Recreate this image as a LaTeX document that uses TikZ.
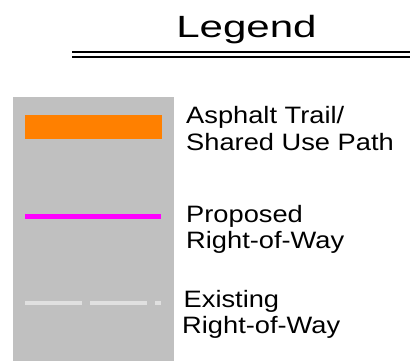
\documentclass[tikz,border=0pt]{standalone}
\usepackage{fontspec}
\setmainfont{Liberation Sans}
\definecolor{boxgray}{HTML}{C0C0C0}
\definecolor{trailorange}{HTML}{FF8000}
\definecolor{propmag}{HTML}{FF00FF}
\definecolor{existgray}{HTML}{E0E0E0}
\begin{document}
\begin{tikzpicture}[x=1pt,y=-1pt,
  lbl/.style={anchor=base west,inner sep=0pt,font=\fontsize{23.7}{27}\selectfont,xscale=1.15},
  ttl/.style={anchor=base west,inner sep=0pt,font=\fontsize{30.7}{34}\selectfont,xscale=1.37}]
\useasboundingbox[fill=white] (0,0) rectangle (410,361);
% gray panel
\fill[boxgray] (13,97) rectangle (174,361);
% title
\node[ttl] (title) at (176,38) {Legend};
\coordinate (ulA) at (72,51.8);
\coordinate (ulB) at (410,51.8);
\coordinate (ulC) at (72,56.8);
\coordinate (ulD) at (410,56.8);
\draw[line width=1.8pt] (ulA) -- (ulB);
\draw[line width=1.8pt] (ulC) -- (ulD);
% symbols
\fill[trailorange] (25,115) rectangle (162,139);
\coordinate (pA) at (25,216.5);
\coordinate (pB) at (161,216.5);
\draw[propmag,line width=5pt] (pA) -- (pB);
\coordinate (eA) at (25,303);
\coordinate (eB) at (161,303);
\draw[existgray,line width=4pt,dash pattern=on 57pt off 8pt] (eA) -- (eB);
% labels
\node[lbl] (t1a) at (186,123) {Asphalt Trail/};
\node[lbl] (t1b) at (186,150) {Shared Use Path};
\node[lbl] (t2a) at (186,222) {Proposed};
\node[lbl] (t2b) at (186,248) {Right-of-Way};
\node[lbl] (t3a) at (183.5,307) {Existing};
\node[lbl] (t3b) at (182,333) {Right-of-Way};
\end{tikzpicture}
\end{document}
